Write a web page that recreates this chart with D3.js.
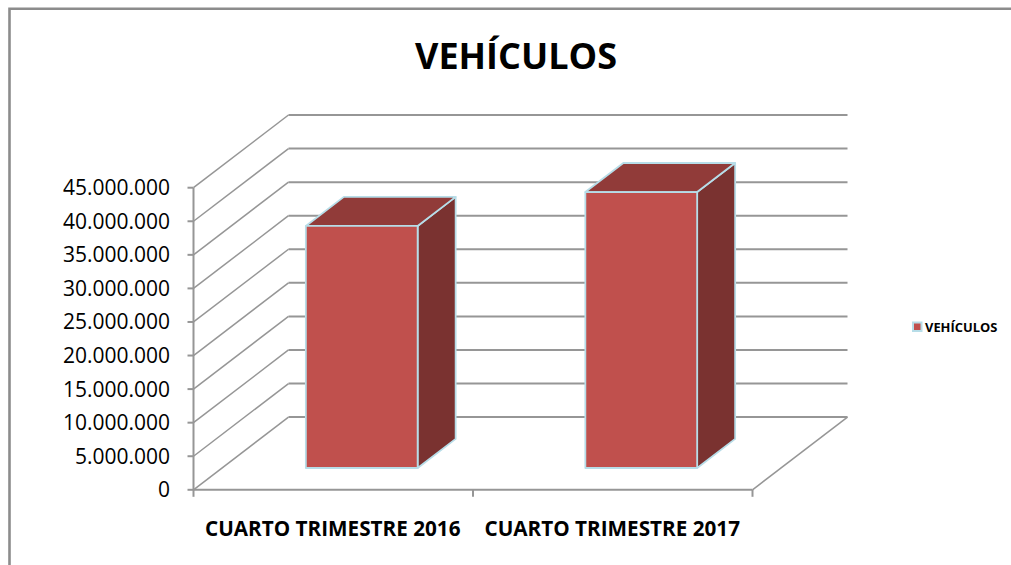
<!DOCTYPE html>
<html><head><meta charset="utf-8">
<script src="https://cdn.jsdelivr.net/npm/d3@7"></script>
<style>html,body{margin:0;padding:0;background:#fff}svg{display:block}</style>
</head><body><svg id="c" width="1011" height="565"></svg>
<script>
const chartTitle = "VEHÍCULOS";
const seriesName = "VEHÍCULOS";
const categories = ["CUARTO TRIMESTRE 2016", "CUARTO TRIMESTRE 2017"];
const values = [36050000, 41100000];
const tickValues = [0,5000000,10000000,15000000,20000000,25000000,30000000,35000000,40000000,45000000];

const svg = d3.select("#c");
const x = d3.scaleBand().domain(categories).range([193.5,752.5]).paddingInner(0).paddingOuter(0);
const y = d3.scaleLinear().domain([0,45000000]).range([489.8,187.7]);
const depth = d3.scaleLinear().domain([0,1]);
const dx = depth.copy().range([0,95]);
const dy = depth.copy().range([0,-72.7]);
const grid = "#969696", edge = "#b7dde8";
const fmt = v => d3.format(",")(v).replace(/,/g,".");
const pt = (px,py,d) => [px+dx(d), py+dy(d)];
const poly = (pts,fill,stroke,sw) => svg.append("polygon").attr("points",pts.map(p=>p.join(",")).join(" "))
  .attr("fill",fill).attr("stroke",stroke).attr("stroke-width",sw).attr("stroke-linejoin","round");
const line = (a,b,w=2) => svg.append("line").attr("x1",a[0]).attr("y1",a[1]).attr("x2",b[0]).attr("y2",b[1])
  .attr("stroke",grid).attr("stroke-width",w);

// frame: open at the right and bottom
svg.append("path").attr("d","M9.5,565V8.7H1011").attr("fill","none").attr("stroke","#8c8c8c").attr("stroke-width",2.6);

// gridlines on side and back walls
tickValues.forEach(v=>{
  const p0=[x.range()[0],y(v)];
  line(p0,pt(p0[0],p0[1],1),1.5);
  line(pt(p0[0],p0[1],1),pt(x.range()[1],y(v),1));
  line([p0[0]-6,y(v)],p0);
  svg.append("text").attr("x",170).attr("y",y(v)+7.5).attr("text-anchor","end")
    .attr("font-family","'Open Sans'").attr("font-size",21).attr("fill","#000").text(fmt(v));
});
// axes
line([x.range()[0],y(0)],[x.range()[0],y(45000000)]);
line([x.range()[0],y(0)],[x.range()[1],y(0)]);
line([x.range()[1],y(0)],pt(x.range()[1],y(0),1),1.5);
[x.range()[0],x.range()[0]+x.step(),x.range()[1]].forEach(px=>line([px,y(0)],[px,y(0)+7]));

// bars: gap width 150%, occupying depth 0.3..0.7
categories.forEach((c,i)=>{
  const bw = x.step()/2.5, c0 = x(c)+x.step()/2;
  const l=c0-bw/2, r=c0+bw/2, t=y(values[i]), b=y(0);
  const d0=.3, d1=.7;
  poly([pt(r,t,d0),pt(r,t,d1),pt(r,b,d1),pt(r,b,d0)],"#7a3230",edge,1.8);
  poly([pt(l,t,d0),pt(l,t,d1),pt(r,t,d1),pt(r,t,d0)],"#913b39",edge,1.8);
  poly([pt(l,t,d0),pt(r,t,d0),pt(r,b,d0),pt(l,b,d0)],"#c0504d",edge,1.8);
  svg.append("text").attr("x",c0-.5).attr("y",536).attr("text-anchor","middle")
    .attr("font-family","'Open Sans'").attr("font-weight",700).attr("font-size",20.7).attr("fill","#000").text(c);
});

// title
svg.append("text").attr("x",516).attr("y",69).attr("text-anchor","middle")
  .attr("font-family","'Open Sans'").attr("font-weight",700).attr("font-size",36).attr("fill","#000").text(chartTitle);

// legend
svg.append("rect").attr("x",913).attr("y",322.5).attr("width",8.5).attr("height",8.5).attr("fill","#c0504d").attr("stroke",edge).attr("stroke-width",2);
svg.append("text").attr("x",925).attr("y",332).attr("font-family","'Open Sans'").attr("font-weight",700).attr("font-size",12.9).attr("fill","#000").text(seriesName);
</script></body></html>
